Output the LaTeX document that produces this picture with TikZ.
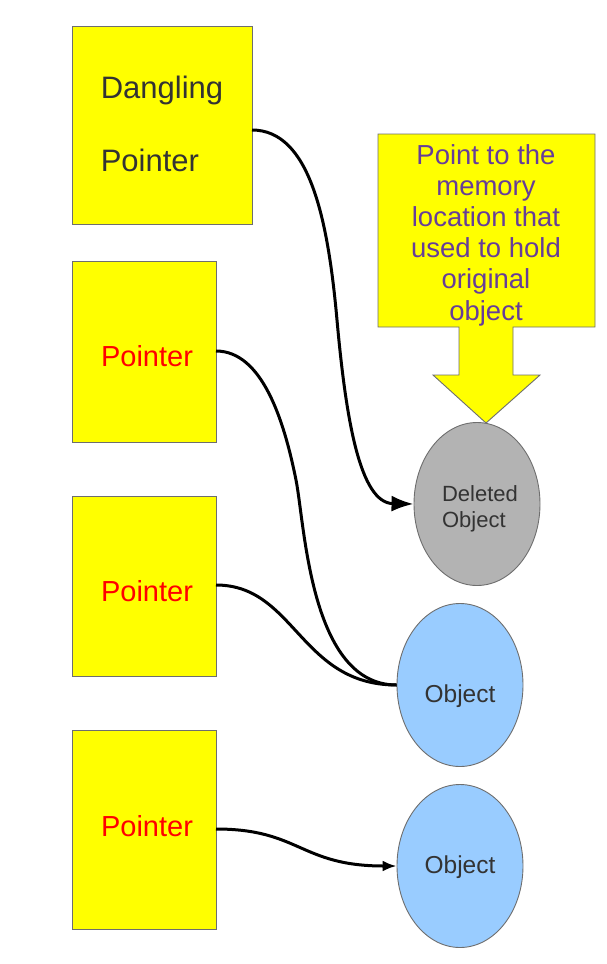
\documentclass[tikz,border=0pt]{standalone}
\usepackage{fontspec}
\setmainfont{Liberation Sans}
\usetikzlibrary{shapes.geometric,arrows.meta}
\definecolor{boxyellow}{rgb}{1,1,0}
\definecolor{edgegray}{RGB}{110,110,110}
\definecolor{textdark}{RGB}{51,51,51}
\definecolor{calloutpurple}{RGB}{102,61,153}
\definecolor{objblue}{RGB}{153,204,255}
\definecolor{delgray}{RGB}{179,179,179}
\tikzset{
  ptrbox/.style={draw=edgegray, line width=0.9pt, fill=boxyellow, inner sep=0pt, anchor=north west},
  objell/.style={ellipse, draw=edgegray, line width=0.9pt, inner sep=0pt, minimum width=126pt, minimum height=163pt},
  conn/.style={line width=3pt, black},
  ptrtext/.style={text=red, font=\fontsize{29}{34}\selectfont},
}
\begin{document}
\begin{tikzpicture}[x=1pt,y=-1pt]
\useasboundingbox (0,0) rectangle (607,964);
% pointer boxes
\node[ptrbox, minimum width=180pt, minimum height=198pt] (b1) at (72,26) {};
\node[ptrbox, minimum width=144pt, minimum height=181pt] (b2) at (72,261) {};
\node[ptrbox, minimum width=144pt, minimum height=180pt] (b3) at (72,496) {};
\node[ptrbox, minimum width=144pt, minimum height=199pt] (b4) at (72,730) {};
% texts in boxes
\node[text=textdark, font=\fontsize{31}{73}\selectfont, align=left, inner sep=0pt] (t1) at (162,124) {Dangling\\Pointer};
\node[ptrtext, inner sep=0pt] (t2) at (147,356) {Pointer};
\node[ptrtext, inner sep=0pt] (t3) at (147,591) {Pointer};
\node[ptrtext, inner sep=0pt] (t4) at (147,826) {Pointer};
% callout
\draw[draw=edgegray, line width=0.9pt, fill=boxyellow]
  (378,134) -- (595,134) -- (595,327) -- (513,327) -- (513,375) -- (540,375)
  -- (486,423) -- (433,375) -- (459,375) -- (459,327) -- (378,327) -- cycle;
\node[text=calloutpurple, font=\fontsize{27.5}{31.2}\selectfont, align=center, inner sep=0pt] (ct) at (486,235)
  {Point to the\\memory\\location that\\used to hold\\original\\object};
% objects
\node[objell, fill=delgray] (del) at (477,504) {};
\node[text=textdark, font=\fontsize{22}{25.5}\selectfont, align=left, inner sep=0pt] (delt) at (480,509) {Deleted\\Object};
\node[objell, fill=objblue] (o1) at (460,685) {};
\node[text=textdark, font=\fontsize{24.5}{28}\selectfont, inner sep=0pt] (o1t) at (460,696) {Object};
\node[objell, fill=objblue] (o2) at (460,866) {};
\node[text=textdark, font=\fontsize{24.5}{28}\selectfont, inner sep=0pt] (o2t) at (460,867) {Object};
% connectors
\coordinate (b1r) at (252,130);
\coordinate (b2r) at (216,351);
\coordinate (b3r) at (216,585);
\coordinate (b4r) at (216,829);
\draw[conn, -{Latex[length=22pt,width=16pt]}] (b1r) .. controls (310,130) and (328,220) .. (337,320)
  .. controls (346,420) and (360,503) .. (del.west);
\draw[conn] (b2r) .. controls (262,351) and (284,420) .. (296,480)
  .. controls (305,525) and (310,685) .. (o1.west);
\draw[conn] (b3r) .. controls (295,585) and (300,685) .. (o1.west);
\draw[conn, -{Latex[length=14pt,width=11pt]}] (b4r) .. controls (300,829) and (300,866) .. (o2.west);
\end{tikzpicture}
\end{document}
